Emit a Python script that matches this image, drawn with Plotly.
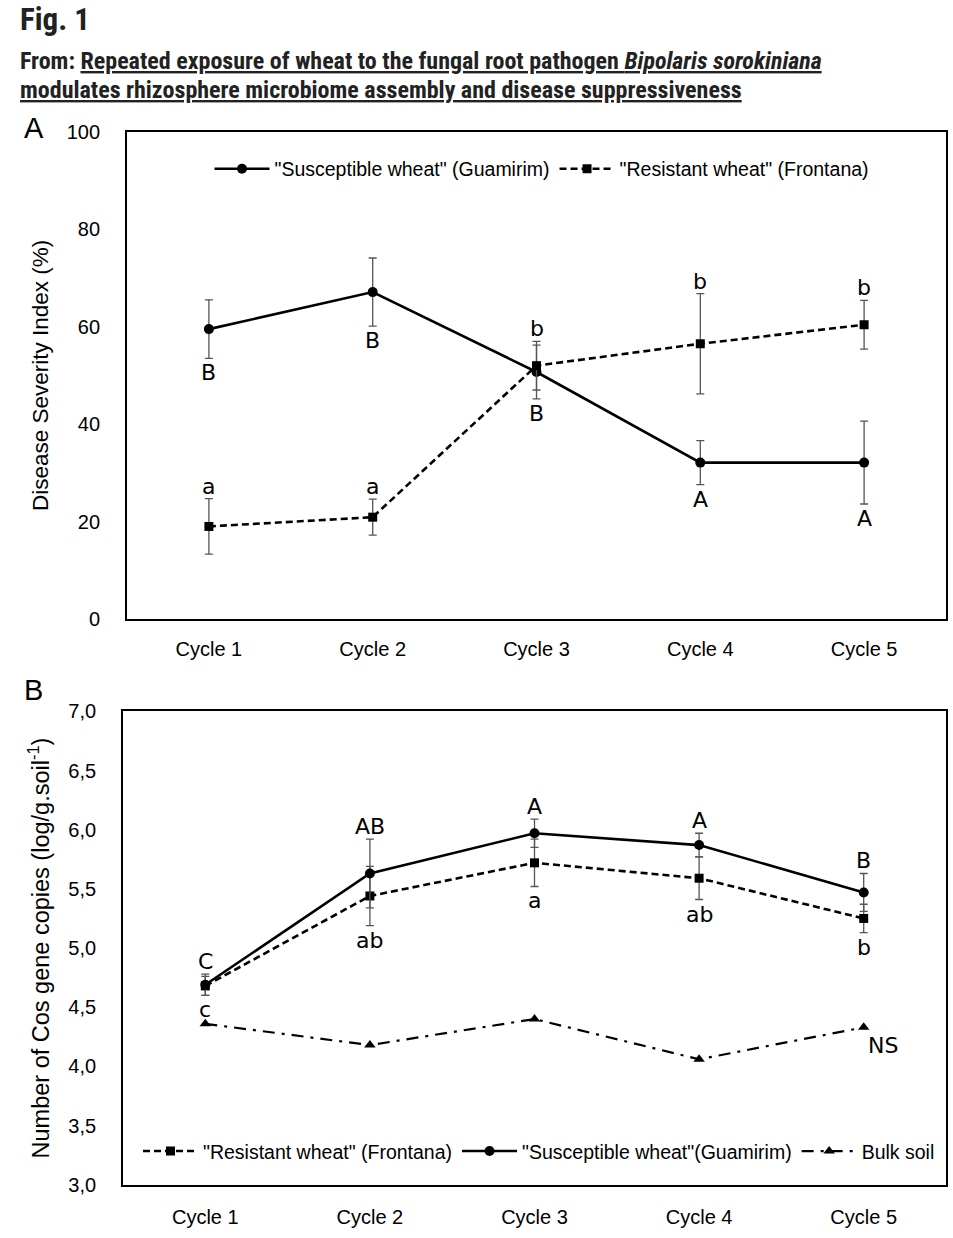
import plotly.graph_objects as go

# ---------------- data ----------------
cycles = ["Cycle 1", "Cycle 2", "Cycle 3", "Cycle 4", "Cycle 5"]

# Panel A: Disease Severity Index (%)
dsi_susceptible = [59.5, 67.1, 50.7, 32.1, 32.1]
dsi_susceptible_err = [6.0, 7.0, 5.5, 4.5, 8.5]
dsi_resistant = [19.0, 20.9, 52.0, 56.5, 60.4]
dsi_resistant_err = [5.7, 3.7, 5.0, 10.3, 5.0]
letters_A_susceptible = ["B", "B", "B", "A", "A"]   # below points
letters_A_resistant = ["a", "a", "b", "b", "b"]     # above points

# Panel B: Number of Cos gene copies (log/g soil)
cos_resistant = [4.68, 5.44, 5.72, 5.59, 5.25]
cos_resistant_err = [0.08, 0.25, 0.20, 0.18, 0.12]
cos_susceptible = [4.69, 5.63, 5.97, 5.87, 5.47]
cos_susceptible_err = [0.09, 0.29, 0.12, 0.10, 0.16]
cos_bulk = [4.36, 4.18, 4.40, 4.06, 4.33]
letters_B_susceptible = ["C", "AB", "A", "A", "B"]  # above points
letters_B_resistant = ["c", "ab", "a", "ab", "b"]   # below points
bulk_label = "NS"

ticks_A = [0, 20, 40, 60, 80, 100]
ticks_B = [3.0, 3.5, 4.0, 4.5, 5.0, 5.5, 6.0, 6.5, 7.0]
ticks_B_text = [f"{v:.1f}".replace(".", ",") for v in ticks_B]

# ---------------- styling ----------------
W, H = 953, 1238
FONT = "Liberation Sans, Arial, sans-serif"
LETTER_FONT = dict(family="DejaVu Sans, sans-serif", size=22, color="black")
ERR = dict(type="data", thickness=1.3, width=4, color="#555555")


def px_x(p):
    return p / W


def px_y(p):
    return 1 - p / H


fig = go.Figure()

# Panel A traces
fig.add_trace(go.Scatter(
    x=cycles, y=dsi_susceptible, xaxis="x", yaxis="y",
    name='"Susceptible wheat" (Guamirim)', mode="lines+markers",
    line=dict(color="black", width=2.6), marker=dict(symbol="circle", size=10, color="black"),
    error_y=dict(array=dsi_susceptible_err, **ERR), legend="legend"))
fig.add_trace(go.Scatter(
    x=cycles, y=dsi_resistant, xaxis="x", yaxis="y",
    name='"Resistant wheat" (Frontana)', mode="lines+markers",
    line=dict(color="black", width=2.6, dash="7px,4px"), marker=dict(symbol="square", size=9, color="black"),
    error_y=dict(array=dsi_resistant_err, **ERR), legend="legend"))

# Panel B traces
fig.add_trace(go.Scatter(
    x=cycles, y=cos_resistant, xaxis="x2", yaxis="y2",
    name='"Resistant wheat" (Frontana)', mode="lines+markers",
    line=dict(color="black", width=2.6, dash="7px,4px"), marker=dict(symbol="square", size=9, color="black"),
    error_y=dict(array=cos_resistant_err, **ERR), legend="legend2"))
fig.add_trace(go.Scatter(
    x=cycles, y=cos_susceptible, xaxis="x2", yaxis="y2",
    name='"Susceptible wheat"(Guamirim)', mode="lines+markers",
    line=dict(color="black", width=2.6), marker=dict(symbol="circle", size=10, color="black"),
    error_y=dict(array=cos_susceptible_err, **ERR), legend="legend2"))
fig.add_trace(go.Scatter(
    x=cycles, y=cos_bulk, xaxis="x2", yaxis="y2",
    name="Bulk soil", mode="lines+markers",
    line=dict(color="black", width=2.2, dash="12px,7px,3px,7px"),
    marker=dict(symbol="triangle-up", size=10, color="black"), legend="legend2"))

# ---------------- letters ----------------
ann = []
for c, v, e, t in zip(cycles, dsi_susceptible, dsi_susceptible_err, letters_A_susceptible):
    ann.append(dict(x=c, y=v - e, xref="x", yref="y", text=t, showarrow=False,
                    yanchor="top", yshift=0, font=LETTER_FONT))
for c, v, e, t in zip(cycles, dsi_resistant, dsi_resistant_err, letters_A_resistant):
    ann.append(dict(x=c, y=v + e, xref="x", yref="y", text=t, showarrow=False,
                    yanchor="bottom", yshift=-2, font=LETTER_FONT))
for c, v, e, t in zip(cycles, cos_susceptible, cos_susceptible_err, letters_B_susceptible):
    ann.append(dict(x=c, y=v + e, xref="x2", yref="y2", text=t, showarrow=False,
                    yanchor="bottom", yshift=-2, font=LETTER_FONT))
for c, v, e, t in zip(cycles, cos_resistant, cos_resistant_err, letters_B_resistant):
    ann.append(dict(x=c, y=v - e, xref="x2", yref="y2", text=t, showarrow=False,
                    yanchor="top", yshift=0, font=LETTER_FONT))
ann.append(dict(x=cycles[-1], y=cos_bulk[-1], xref="x2", yref="y2", text=bulk_label, showarrow=False,
                yanchor="top", xshift=19, yshift=-4, font=LETTER_FONT))

# panel labels + header
ann.append(dict(x=px_x(22), y=px_y(119), xref="paper", yref="paper", text="A", showarrow=False,
                xanchor="left", yanchor="middle", font=dict(family=FONT, size=29, color="black")))
ann.append(dict(x=px_x(22), y=px_y(691), xref="paper", yref="paper", text="B", showarrow=False,
                xanchor="left", yanchor="middle", font=dict(family=FONT, size=29, color="black")))
HEAD_FONT = "Liberation Sans Narrow, Arial Narrow, Roboto Condensed, sans-serif"
HEAD_COLOR = "#222222"
ann.append(dict(x=px_x(18), y=px_y(9), xref="paper", yref="paper", text="<b>Fig. 1</b>", showarrow=False,
                xanchor="left", yanchor="middle", font=dict(family=HEAD_FONT, size=31, color=HEAD_COLOR)))
ann.append(dict(x=px_x(18), y=px_y(51), xref="paper", yref="paper",
                text="<b>From: <u>Repeated exposure of wheat to the fungal root pathogen <i>Bipolaris sorokiniana</i></u></b>",
                showarrow=False, xanchor="left", yanchor="middle", align="left",
                font=dict(family=HEAD_FONT, size=24, color=HEAD_COLOR)))
ann.append(dict(x=px_x(18), y=px_y(80), xref="paper", yref="paper",
                text="<b><u>modulates rhizosphere microbiome assembly and disease suppressiveness</u></b>",
                showarrow=False, xanchor="left", yanchor="middle", align="left",
                font=dict(family=HEAD_FONT, size=24, color=HEAD_COLOR)))

axis_common = dict(showline=True, linecolor="black", linewidth=1.8, mirror=True,
                   showgrid=False, zeroline=False, ticks="", color="black",
                   tickfont=dict(family=FONT, size=20, color="black"))

fig.update_layout(
    width=W, height=H, margin=dict(l=0, r=0, t=0, b=0),
    paper_bgcolor="white", plot_bgcolor="white",
    font=dict(family=FONT, color="black"),
    annotations=ann,
    xaxis=dict(domain=[px_x(127), px_x(946)], anchor="y", range=[-0.5, 4.5],
               ticklabelstandoff=11, **axis_common),
    yaxis=dict(domain=[px_y(619), px_y(123)], anchor="x", range=[0, 100], tickvals=ticks_A,
               ticklabelstandoff=21,
               title=dict(text="Disease Severity Index (%)", font=dict(family=FONT, size=22.5), standoff=12),
               **axis_common),
    xaxis2=dict(domain=[px_x(123), px_x(946)], anchor="y2", range=[-0.5, 4.5],
                ticklabelstandoff=13, **axis_common),
    yaxis2=dict(domain=[px_y(1195), px_y(713)], anchor="x2", range=[3.0, 7.0], tickvals=ticks_B,
                ticktext=ticks_B_text, ticklabelstandoff=21,
                title=dict(text="Number of Cos gene copies (log/g.soil<sup>-1</sup>)",
                           font=dict(family=FONT, size=23.5), standoff=12),
                **axis_common),
    legend=dict(orientation="h", x=px_x(542), y=px_y(161), xanchor="center", yanchor="middle",
                font=dict(family=FONT, size=19.5), bgcolor="rgba(0,0,0,0)", itemwidth=55,
                traceorder="normal"),
    legend2=dict(orientation="h", x=px_x(539), y=px_y(1161), xanchor="center", yanchor="middle",
                 font=dict(family=FONT, size=19.5), bgcolor="rgba(0,0,0,0)", itemwidth=55,
                 traceorder="normal"),
)

fig.write_html("out.html")
